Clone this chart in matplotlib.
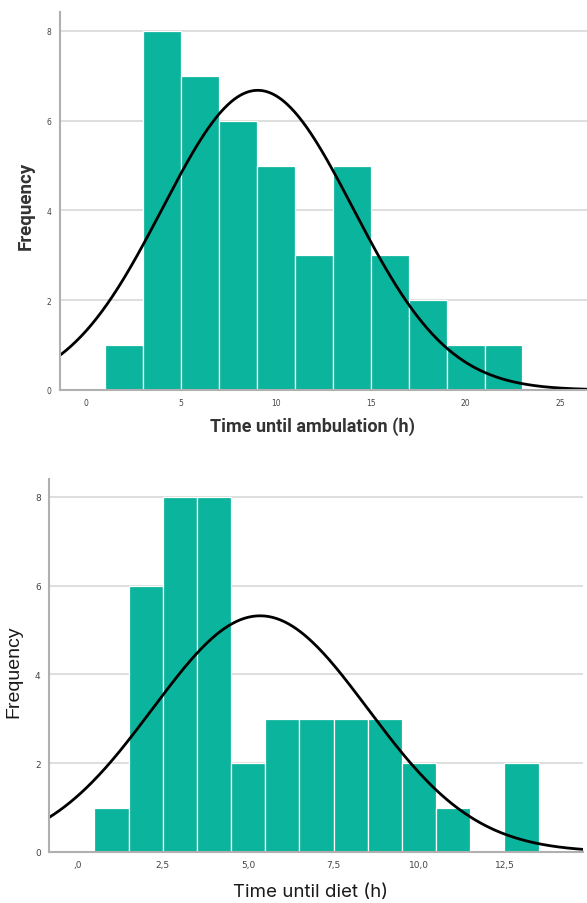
import numpy as np
import matplotlib
matplotlib.use('Agg')
import matplotlib.pyplot as plt

# histogram bins and counts
amb_edges = [1, 3, 5, 7, 9, 11, 13, 15, 17, 19, 21, 23]
amb_counts = [1, 8, 7, 6, 5, 3, 5, 3, 2, 1, 1]
amb_mean, amb_sd = 9.05, 5.02
amb_xticks = [0, 5, 10, 15, 20, 25]
amb_xticklabels = ['0', '5', '10', '15', '20', '25']

diet_edges = [0.5, 1.5, 2.5, 3.5, 4.5, 5.5, 6.5, 7.5, 8.5, 9.5, 10.5, 11.5, 12.5, 13.5]
diet_counts = [1, 6, 8, 8, 2, 3, 3, 3, 3, 2, 1, 0, 2]
diet_mean, diet_sd = 5.35, 3.15
diet_xticks = [0, 2.5, 5, 7.5, 10, 12.5]
diet_xticklabels = [',0', '2,5', '5,0', '7,5', '10,0', '12,5']

yticks = [0, 2, 4, 6, 8]

TEAL = '#0bb49c'
GRID = '#d8d8d8'
AXIS = '#b0b0b0'


def normal_curve(x, n, width, mu, sd):
    return n * width / (sd * np.sqrt(2 * np.pi)) * np.exp(-0.5 * ((x - mu) / sd) ** 2)


def draw_hist(ax, edges, counts, mu, sd, xlim, ylim, xticks, xticklabels, tick_size):
    edges = np.array(edges, dtype=float)
    width = edges[1] - edges[0]
    ax.set_axisbelow(True)
    ax.yaxis.grid(True, color=GRID, linewidth=1.2)
    ax.bar(edges[:-1], counts, width=width, align='edge', color=TEAL,
           edgecolor='white', linewidth=0.9)
    xs = np.linspace(xlim[0], xlim[1], 400)
    ax.plot(xs, normal_curve(xs, sum(counts), width, mu, sd), color='black', linewidth=2.0)
    ax.set_xlim(*xlim)
    ax.set_ylim(*ylim)
    ax.set_xticks(xticks)
    ax.set_xticklabels(xticklabels)
    ax.set_yticks(yticks)
    for s in ['top', 'right']:
        ax.spines[s].set_visible(False)
    for s in ['left', 'bottom']:
        ax.spines[s].set_color(AXIS)
        ax.spines[s].set_linewidth(1.5)
    ax.tick_params(length=0, labelsize=tick_size, colors='#444444', pad=6)


fig = plt.figure(figsize=(5.87, 9.04), dpi=100)

ax1 = fig.add_axes([60 / 587, 513 / 904, 527 / 587, 378 / 904])
draw_hist(ax1, amb_edges, amb_counts, amb_mean, amb_sd, (-1.37, 26.4), (0, 8.42),
          amb_xticks, amb_xticklabels, 5.5)
ax1.set_xlabel('Time until ambulation (h)', fontsize=13, fontweight='semibold',
               family='Roboto', color='#333333')
ax1.xaxis.set_label_coords(0.48, -0.069)
ax1.set_ylabel('Frequency', fontsize=13.5, fontweight='semibold', family='Roboto',
               color='#333333')
ax1.yaxis.set_label_coords(-0.047, 0.49)

ax2 = fig.add_axes([49 / 587, 51 / 904, 534 / 587, 373 / 904])
draw_hist(ax2, diet_edges, diet_counts, diet_mean, diet_sd, (-0.83, 14.8), (0, 8.4),
          diet_xticks, diet_xticklabels, 6.5)
ax2.set_xlabel('Time until diet (h)', fontsize=13.5, family='Inter', color='#1a1a1a')
ax2.xaxis.set_label_coords(0.49, -0.083)
ax2.set_ylabel('Frequency', fontsize=14, family='Liberation Sans', color='#1a1a1a')
ax2.yaxis.set_label_coords(-0.049, 0.485)

fig.savefig('out.png', dpi=100)
